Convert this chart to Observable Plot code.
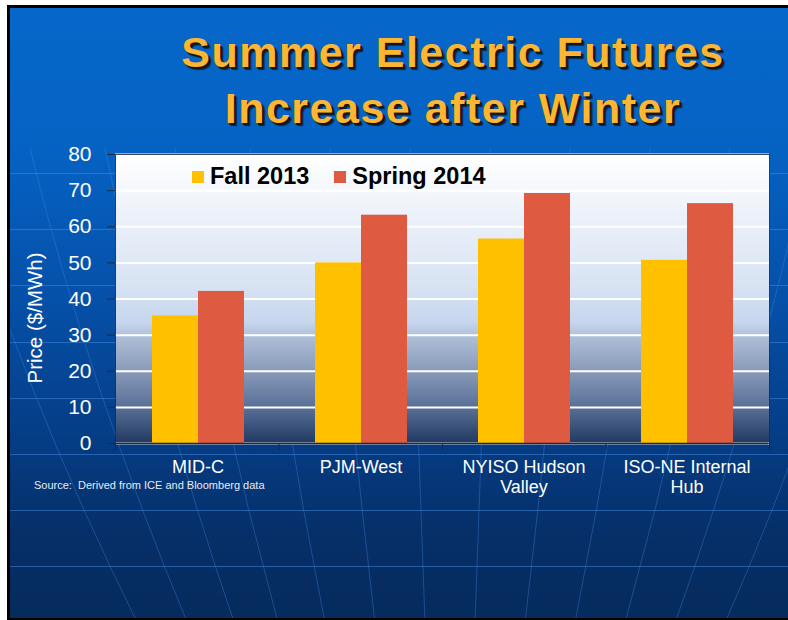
<!DOCTYPE html>
<html>
<head>
<meta charset="utf-8">
<script src="https://cdn.jsdelivr.net/npm/d3@7"></script>
<script src="https://cdn.jsdelivr.net/npm/@observablehq/plot@0.6"></script>
<style>
  html, body { margin: 0; padding: 0; background: #fff; width: 788px; height: 620px; overflow: hidden; }
  body { position: relative; font-family: "Liberation Sans", Arial, sans-serif; }
  #slide {
    position: absolute; left: 7px; top: 5px; width: 800px; height: 610px;
    border-left: 3px solid #000; border-top: 3px solid #000; border-bottom: 2px solid #000;
    background-color: #0565c8;
    background-image:
      repeating-linear-gradient(to bottom, rgba(70,140,225,0.5) 0px, rgba(70,140,225,0.5) 1px, transparent 1px, transparent 56.2px),
      linear-gradient(to bottom, #0667ca 0%, #0563c4 22%, #0550a8 48%, #053d86 70%, #06306a 85%, #062b5c 100%);
    background-size: 100% 460px, 100% 100%;
    background-position: 0 165px, 0 0;
    background-repeat: no-repeat, no-repeat;
    overflow: hidden;
  }
  #deco { position: absolute; left: 0; top: 0; }
  #title {
    position: absolute; left: 59px; top: 24px; width: 788px; text-align: center;
    font-family: "Liberation Sans", Arial, sans-serif; font-weight: bold; font-size: 43px;
    letter-spacing: 1.5px; line-height: 56px; color: #fdb633;
    text-shadow: 2px 2px 0 #1b1408, 3px 3px 1px rgba(0,0,0,0.6);
  }
  .layer { position: absolute; left: 0; top: 0; }
  .layer svg { overflow: visible; display: block; }
  #ylabel {
    position: absolute; left: 35px; top: 318px; transform: translate(-50%, -50%) rotate(-90deg);
    white-space: nowrap; color: #fff; font-size: 20.5px;
  }
  #legend { position: absolute; left: 192px; top: 163px; display: flex; gap: 25px; }
  #legend .item { display: flex; align-items: center; gap: 6px; font-weight: bold; font-size: 23.5px; color: #000; }
  #legend .sw { width: 12px; height: 12px; }
  #source { position: absolute; left: 34px; top: 479px; font-size: 11px; color: #e6ecf5; white-space: nowrap; }
</style>
</head>
<body>
<div id="slide">
  <svg id="deco" width="800" height="610"></svg>
</div>
<div id="title">Summer Electric Futures<br>Increase after Winter</div>
<div id="base" class="layer"></div>
<div id="bars" class="layer"></div>
<div id="ylabel">Price ($/MWh)</div>
<div id="legend"></div>
<div id="source">Source:&nbsp; Derived from ICE and Bloomberg data</div>
<script>
// ---- data ----
const categories = ["MID-C", "PJM-West", "NYISO Hudson Valley", "ISO-NE Internal Hub"];
const categoryLabels = ["MID-C", "PJM-West", "NYISO Hudson\nValley", "ISO-NE Internal\nHub"];
const series = ["Fall 2013", "Spring 2014"];
const fall2013 = [35.3, 50.0, 56.6, 50.7];
const spring2014 = [42.1, 63.2, 69.2, 66.4];
const yTicks = [0, 10, 20, 30, 40, 50, 60, 70, 80];
const seriesColors = ["#ffc000", "#de5a40"];

const table = [];
categories.forEach((c, i) => {
  table.push({category: c, series: series[0], value: fall2013[i]});
  table.push({category: c, series: series[1], value: spring2014[i]});
});
const labelOf = new Map(categories.map((c, i) => [c, categoryLabels[i]]));

const W = 788, H = 620;
const mTop = 154, mBottom = 177, mLeft = 115, mRight = 19;
const dark = "#1a2a45";
const font = "'Liberation Sans', Arial, sans-serif";

// decorative globe meridians in the slide background
(function () {
  const deco = d3.select("#deco");
  const starts = [-60, 20, 95, 165, 240, 320, 400, 480, 560, 640, 720, 800, 880];
  starts.forEach(x0 => {
    const x1 = 440 + (x0 - 440) * 0.62;
    const cx = 440 + (x0 - 440) * 0.86;
    deco.append("path")
      .attr("d", `M${x0},140 Q${cx},380 ${x1},620`)
      .attr("fill", "none").attr("stroke", "rgba(70,140,230,0.35)").attr("stroke-width", 1);
  });
})();

// base layer: plot-area background, grid, frame, y axis, category boundary ticks
const base = Plot.plot({
  width: W, height: H,
  marginTop: mTop, marginBottom: mBottom, marginLeft: mLeft, marginRight: mRight,
  style: {background: "transparent", fontFamily: font},
  x: {domain: [0, categories.length], axis: null},
  y: {domain: [0, 80], ticks: yTicks},
  marks: [
    Plot.frame({fill: "url(#plotBg)", stroke: null}),
    Plot.gridY(yTicks, {stroke: "#ffffff", strokeOpacity: 1, strokeWidth: 2}),
    Plot.frame({stroke: dark, strokeOpacity: 0.85}),
    Plot.axisY(yTicks, {tickSize: 8, tickPadding: 16, fontSize: 21, fill: "#ffffff", stroke: dark, label: null}),
    Plot.axisX(d3.range(categories.length + 1), {tickSize: 7, stroke: dark, tickFormat: () => "", label: null})
  ]
});
d3.select(base).insert("defs", ":first-child").html(`
  <linearGradient id="plotBg" x1="0" y1="0" x2="0" y2="1">
    <stop offset="0%" stop-color="#ffffff"/>
    <stop offset="20%" stop-color="#edf2fa"/>
    <stop offset="45%" stop-color="#d8e3f3"/>
    <stop offset="58%" stop-color="#c6d6ee"/>
    <stop offset="63%" stop-color="#aebfd8"/>
    <stop offset="76%" stop-color="#8597b6"/>
    <stop offset="88%" stop-color="#566d94"/>
    <stop offset="100%" stop-color="#213861"/>
  </linearGradient>`);
document.getElementById("base").appendChild(base);

// bar layer: grouped bars faceted by category, category labels
const bars = Plot.plot({
  width: W, height: H,
  marginTop: mTop, marginBottom: mBottom, marginLeft: mLeft, marginRight: mRight,
  style: {background: "transparent", fontFamily: font},
  fx: {domain: categories, padding: 0},
  x: {domain: series, paddingInner: 0, paddingOuter: 0.75, axis: null},
  y: {domain: [0, 80], axis: null},
  color: {domain: series, range: seriesColors},
  marks: [
    Plot.barY(table, {fx: "category", x: "series", y: "value", fill: "series"}),
    Plot.ruleY([0], {stroke: dark, strokeWidth: 1.5}),
    Plot.axisFx({anchor: "bottom", tickSize: 0, tickPadding: 15, fontSize: 18, fill: "#ffffff",
      lineHeight: 1.12, label: null, tickFormat: d => labelOf.get(d)})
  ]
});
document.getElementById("bars").appendChild(bars);

// legend
const legend = d3.select("#legend");
series.forEach((s, i) => {
  const item = legend.append("div").attr("class", "item");
  item.append("div").attr("class", "sw").style("background", seriesColors[i]);
  item.append("span").text(s);
});
</script>
</body>
</html>
